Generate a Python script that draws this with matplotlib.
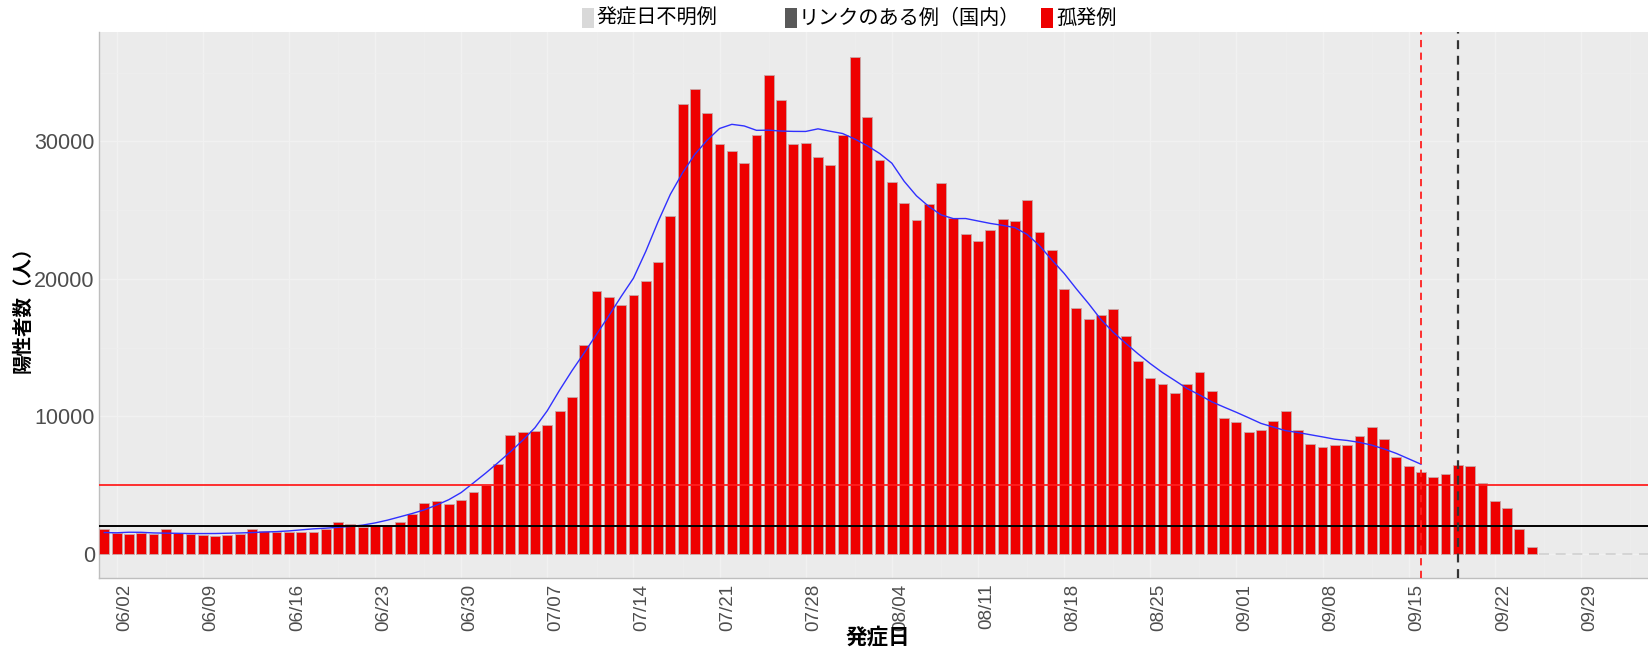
import matplotlib
matplotlib.use("Agg")
import matplotlib.pyplot as plt
import matplotlib.dates as mdates
from matplotlib.patches import Rectangle
import pandas as pd
import numpy as np

plt.rcParams['font.family'] = ['Liberation Sans', 'Noto Sans CJK JP', 'DejaVu Sans']

# daily counts by onset date, 06/01 - 09/25
start = '2022-06-01'
june = [1780, 1510, 1420, 1510, 1470, 1780, 1540, 1470, 1390, 1340, 1390, 1470, 1800, 1680, 1610,
        1590, 1620, 1590, 1830, 2340, 2200, 1940, 2040, 2040, 2290, 2930, 3740, 3880, 3630, 3920]
july = [4490, 5040, 6550, 8670, 8880, 8930, 9410, 10380, 11450, 15200, 19130, 18710, 18080, 18810, 19840,
        21260, 24550, 32720, 33850, 32040, 29810, 29280, 28430, 30470, 34830, 33030, 29810, 29880, 28840,
        28260, 30440]
aug = [36160, 31800, 28650, 27050, 25500, 24310, 25470, 26950, 24400, 23240, 22760, 23580, 24360, 24220,
       25710, 23420, 22080, 19270, 17910, 17090, 17360, 17790, 15860, 14010, 12810, 12370, 11720, 12340,
       13210, 11830, 9900]
sep = [9610, 8850, 9000, 9700, 10420, 8980, 8030, 7790, 7890, 7890, 8590, 9240, 8340, 7060, 6380, 5950,
       5610, 5850, 6500, 6380, 5150, 3840, 3330, 1800, 490]
isolated = june + july + aug + sep

smooth_end = '2022-09-16'   # red dashed line, end of 7-day average
report_day = '2022-09-19'   # black dashed line
red_level = 5000
black_level = 2000

legend_labels = ['発症日不明例', 'リンクのある例（国内）', '孤発例']
legend_colors = ['#D9D9D9', '#595959', '#EE0000']

dates = pd.date_range(start, periods=len(isolated), freq='D')
s = pd.Series(isolated, index=dates)
ma = s.rolling(7, center=True, min_periods=4).mean()
ma = ma[:smooth_end]

W, H = 1648, 647
fig = plt.figure(figsize=(W / 100, H / 100), dpi=100)
ax = fig.add_axes([99 / W, 1 - 578 / H, 1 - 99 / W, (578 - 32) / H])
ax.set_facecolor('#EBEBEB')

ax.bar(dates, isolated, width=0.8, color='#EE0000', edgecolor='#C8A8A8', linewidth=0.6, zorder=3)
ax.plot(ma.index, ma.values, color='#3030FF', lw=1.0, zorder=4)

x0 = pd.Timestamp(start)
xmin = x0 - pd.Timedelta(days=0.43)
xmax = x0 + pd.Timedelta(days=125.45)
ax.hlines(0, dates[-1] + pd.Timedelta(days=0.6), xmax, colors='#D0D0D0', linestyles=(0, (6, 4)), lw=1.2, zorder=3)
ax.axhline(red_level, color='#FF2020', lw=1.3, zorder=5)
ax.axhline(black_level, color='black', lw=1.4, zorder=5)
ax.axvline(pd.Timestamp(smooth_end), color='#FF2020', lw=1.3, ls=(0, (4, 3)), zorder=5)
ax.axvline(pd.Timestamp(report_day), color='#333333', lw=1.6, ls=(0, (4, 3)), zorder=5)

ax.set_xlim(xmin, xmax)
ax.set_ylim(-1750, 37960)

ax.set_yticks([0, 10000, 20000, 30000])
ax.set_yticks([5000, 15000, 25000, 35000], minor=True)
ax.xaxis.set_major_locator(mdates.WeekdayLocator(byweekday=mdates.TH))
ax.xaxis.set_major_formatter(mdates.DateFormatter('%m/%d'))
ax.xaxis.set_minor_locator(mdates.WeekdayLocator(byweekday=mdates.MO))
ax.grid(True, which='major', color='#F1F1F1', lw=1.0, zorder=0)
ax.grid(True, which='minor', color='#EEEEEE', lw=0.6, zorder=0)
ax.set_axisbelow(True)

ax.tick_params(axis='y', length=0, pad=3, labelsize=15.5, labelcolor='#4D4D4D')
ax.tick_params(axis='x', length=0, pad=4, labelsize=13.5, labelcolor='#4D4D4D')
ax.tick_params(which='minor', length=0)
for lab in ax.get_xticklabels():
    lab.set_rotation(90)
    lab.set_ha('left')
    lab.set_va('top')

for side in ['top', 'right']:
    ax.spines[side].set_visible(False)
for side in ['left', 'bottom']:
    ax.spines[side].set_color('#BEBEBE')
    ax.spines[side].set_linewidth(1.0)

ax.set_ylabel('陽性者数（人）', family=['Noto Sans CJK JP'], fontsize=14, fontweight='bold')
ax.yaxis.set_label_coords(-0.043, 0.5)
fig.text(0.5325, 1 - 637 / H, '発症日', family=['Noto Sans CJK JP'], fontsize=15.5, fontweight='bold',
         ha='center', va='center')

# legend on top
key_x = [582, 785, 1041]
text_x = [596, 799, 1056]
for lab, col, kx, tx in zip(legend_labels, legend_colors, key_x, text_x):
    fig.patches.append(Rectangle((kx / W, 1 - 28 / H), 12 / W, 20 / H, transform=fig.transFigure,
                                 facecolor=col, edgecolor='none'))
    fig.text(tx / W, 1 - 18 / H, lab, family=['Noto Sans CJK JP'], fontsize=14.5, ha='left', va='center')

fig.savefig('out.png', dpi=100)
